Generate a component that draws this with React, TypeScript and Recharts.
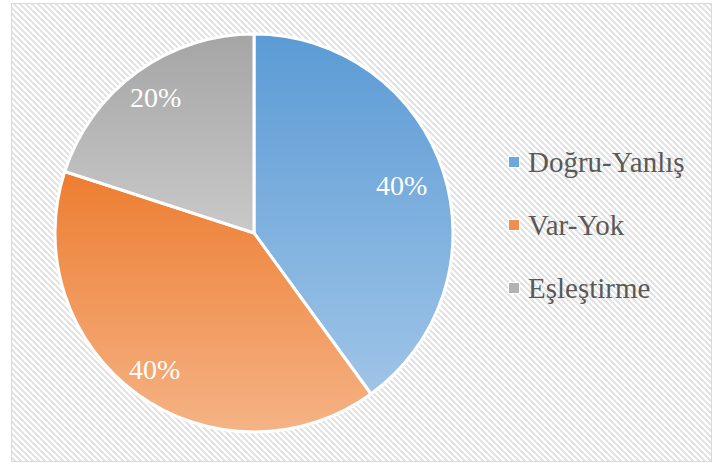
import React from 'react';
import { PieChart, Pie, Cell, Legend } from 'recharts';

const categories = ['Doğru-Yanlış', 'Var-Yok', 'Eşleştirme'];
const values = [40, 40, 20];

const gradTop = ['#5b9bd5', '#ed7d31', '#a5a5a5'];
const gradBottom = ['#9fc4e7', '#f5b385', '#c9c9c9'];
const markerColor = ['#6ea7dc', '#f09050', '#b2b2b2'];
const labelRadiusFactor = [0.78, 0.85, 0.84];

const data = categories.map((name, i) => ({ name, value: values[i] }));

const RAD = Math.PI / 180;
const SERIF = "'Liberation Serif', 'Times New Roman', serif";

const hatchSvg =
  "data:image/svg+xml;utf8," +
  encodeURIComponent(
    "<svg xmlns='http://www.w3.org/2000/svg' width='6' height='6' shape-rendering='crispEdges'>" +
      "<rect width='6' height='6' fill='#ffffff'/>" +
      "<polygon points='0,0 3,0 6,3 6,6' fill='#e4e4e4'/>" +
      "<polygon points='0,3 3,6 0,6' fill='#e4e4e4'/>" +
      '</svg>'
  );

const renderLabel = (props: any) => {
  const { cx, cy, midAngle, outerRadius, percent, index } = props;
  const r = outerRadius * labelRadiusFactor[index];
  const x = cx + r * Math.cos(-midAngle * RAD);
  const y = cy + r * Math.sin(-midAngle * RAD);
  return (
    <text
      x={x}
      y={y}
      fill="#ffffff"
      textAnchor="middle"
      dominantBaseline="central"
      fontFamily={SERIF}
      fontSize={28}
    >
      {`${Math.round(percent * 100)}%`}
    </text>
  );
};

const renderLegend = () => {
  return (
    <div style={{ fontFamily: SERIF }}>
      {categories.map((name, i) => (
        <div key={name} style={{ height: 63, display: 'flex', alignItems: 'center' }}>
          <span
            style={{
              display: 'inline-block',
              width: 10,
              height: 10,
              background: markerColor[i],
              border: '1px solid #ffffff',
              marginRight: 8,
            }}
          />
          <span style={{ fontSize: 29, color: '#595959', lineHeight: '32px' }}>{name}</span>
        </div>
      ))}
    </div>
  );
};

export default function App() {
  return (
    <div style={{ position: 'absolute', left: 0, top: 0, width: 713, height: 464, background: '#ffffff' }}>
      <div
        style={{
          position: 'absolute',
          left: 11,
          top: 3,
          width: 699,
          height: 457,
          border: '1px solid #d9d9d9',
          backgroundColor: '#ffffff',
          backgroundImage: `url("${hatchSvg}")`,
          backgroundRepeat: 'repeat',
        }}
      />
      <div style={{ position: 'absolute', left: 0, top: 0 }}>
        <PieChart width={713} height={464} margin={{ top: 0, right: 0, bottom: 0, left: 0 }}>
          <defs>
            {categories.map((c, i) => (
              <linearGradient key={c} id={`grad${i}`} x1="0" y1="0" x2="0" y2="1">
                <stop offset="0%" stopColor={gradTop[i]} />
                <stop offset="100%" stopColor={gradBottom[i]} />
              </linearGradient>
            ))}
          </defs>
          <Pie
            data={data}
            dataKey="value"
            nameKey="name"
            cx={254}
            cy={233}
            outerRadius={199}
            startAngle={90}
            endAngle={-270}
            stroke="#ffffff"
            strokeWidth={3}
            label={renderLabel}
            labelLine={false}
            isAnimationActive={false}
          >
            {data.map((d, i) => (
              <Cell key={d.name} fill={`url(#grad${i})`} />
            ))}
          </Pie>
          <Legend
            layout="vertical"
            content={renderLegend}
            wrapperStyle={{ position: 'absolute', left: 508, top: 130, width: 200 }}
          />
        </PieChart>
      </div>
    </div>
  );
}
